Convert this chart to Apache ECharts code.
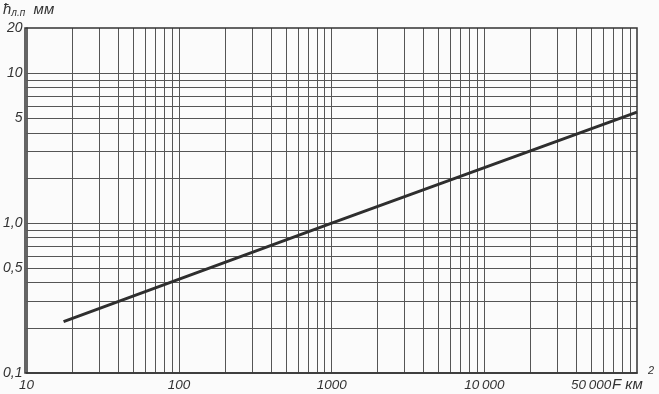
<!DOCTYPE html>
<html><head><meta charset="utf-8">
<script src="https://cdn.jsdelivr.net/npm/echarts@6/dist/echarts.min.js"></script>
<style>html,body{margin:0;padding:0;background:#fbfbfb}#c{width:659px;height:394px}</style>
</head><body><div id="c"></div>
<script>
// Curve (F, km² ; h, mm)
const curveF = [17.5, 1000, 100000];
const curveH = [0.22, 1.0, 5.5];
// grid lines
const xGrid = [20,30,40,50,60,70,80,90,100,200,300,400,500,600,700,800,900,1000,2000,3000,4000,5000,6000,7000,8000,9000,10000,20000,30000,40000,50000,60000,70000,80000,90000];
const yGrid = [0.2,0.3,0.4,0.5,0.6,0.7,0.8,0.9,1,2,3,4,5,6,7,8,9,10];
// tick labels
const xTickVals = [10,100,1000,10000,50000];
const xTickText = ['10','100','1000','10\u2009000','50\u2009000'];
const yTickVals = [0.1,0.5,1,5,10,20];
const yTickText = ['0,1','0,5','1,0','5','10','20'];

const chart = echarts.init(document.getElementById('c'), null, {renderer:'canvas'});
const font = {fontFamily:'Liberation Sans', fontStyle:'italic', fontSize:14, color:'#333'};
const gridStyle = {color:'#555', width:1, type:'solid'};
chart.setOption({
  backgroundColor:'#fbfbfb',
  animation:false,
  grid:{left:25, right:22, top:28, bottom:21, show:false},
  xAxis:{type:'log', min:10, max:100000, logBase:10,
    axisLine:{show:true, onZero:false, lineStyle:{color:'#333', width:1.5}},
    axisTick:{show:false}, splitLine:{show:false},
    axisLabel:{show:true, customValues:xTickVals, margin:5,
      formatter:v=>{const i=xTickVals.findIndex(t=>Math.abs(t-v)/t<1e-6);return i>=0?xTickText[i]:'';},
      ...font, fontSize:13.5}},
  yAxis:{type:'log', min:0.1, max:20, logBase:10,
    axisLine:{show:true, onZero:false, lineStyle:{color:'#333', width:1.5}},
    axisTick:{show:false}, splitLine:{show:false},
    axisLabel:{show:true, customValues:yTickVals, margin:4,
      formatter:v=>{const i=yTickVals.findIndex(t=>Math.abs(t-v)/t<1e-6);return i>=0?yTickText[i]:'';},
      ...font}},
  graphic:[
    {type:'rect', shape:{x:25,y:28,width:612,height:345}, style:{fill:'none', stroke:'#333', lineWidth:1.5}, z:10},
    {type:'text', left:3, top:2, style:{text:'ħ{s|л.п}  мм', rich:{s:{fontSize:10, fontStyle:'italic', fontFamily:'Liberation Sans', fill:'#333', padding:[8,0,0,0]}}, fontFamily:'Liberation Sans', fontStyle:'italic', fontSize:15, fill:'#333'}},
    {type:'text', x:612, y:377, style:{text:'F км', fontFamily:'Liberation Sans', fontStyle:'italic', fontSize:15, fill:'#333'}},
    {type:'text', x:648, y:365, style:{text:'2', fontFamily:'Liberation Sans', fontStyle:'italic', fontSize:11, fill:'#333'}}
  ],
  series:[{
    type:'line', data:curveF.map((f,i)=>[f,curveH[i]]), showSymbol:false,
    lineStyle:{color:'#2e2e2e', width:3}, z:5,
    markLine:{silent:true, symbol:'none', label:{show:false}, lineStyle:gridStyle,
      data:[...xGrid.map(v=>({xAxis:v})), ...yGrid.map(v=>({yAxis:v}))]}
  }]
});
</script></body></html>
